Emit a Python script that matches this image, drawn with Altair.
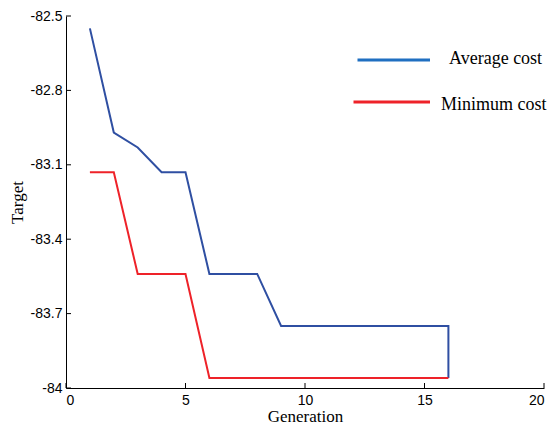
import altair as alt
import pandas as pd

# Data
gen_avg = [1, 2, 3, 4, 5, 6, 7, 8, 9, 10, 11, 12, 13, 14, 15, 16, 16]
avg_cost = [-82.55, -82.97, -83.03, -83.13, -83.13, -83.54, -83.54, -83.54,
            -83.75, -83.75, -83.75, -83.75, -83.75, -83.75, -83.75, -83.75, -83.96]
gen_min = [1, 2, 3, 4, 5, 6, 7, 8, 9, 10, 11, 12, 13, 14, 15, 16]
min_cost = [-83.13, -83.13, -83.54, -83.54, -83.54, -83.96, -83.96, -83.96,
            -83.96, -83.96, -83.96, -83.96, -83.96, -83.96, -83.96, -83.96]
series_names = ["Average cost", "Minimum cost"]
series_colors = ["#2f4fa2", "#ee2229"]
legend_colors = ["#1f6fc1", "#ee2229"]
x_ticks = [0, 5, 10, 15, 20]
y_ticks = [-84, -83.7, -83.4, -83.1, -82.8, -82.5]

rows = []
for i, (g, v) in enumerate(zip(gen_avg, avg_cost)):
    rows.append({"Generation": g, "Target": v, "Series": series_names[0], "order": i})
for i, (g, v) in enumerate(zip(gen_min, min_cost)):
    rows.append({"Generation": g, "Target": v, "Series": series_names[1], "order": i})
df = pd.DataFrame(rows)

W, H = 478, 372

xscale = alt.Scale(domain=[0, 20], nice=False, zero=False)
yscale = alt.Scale(domain=[-84, -82.5], nice=False, zero=False)

xaxis = alt.Axis(values=x_ticks, title="Generation", grid=False,
                 tickSize=0, labelPadding=5, titlePadding=1,
                 labelFont="Liberation Sans", labelFontSize=14,
                 titleFont="Liberation Serif", titleFontSize=17,
                 titleFontWeight="normal", labelColor="black",
                 titleColor="black", domainColor="black")
yaxis = alt.Axis(values=y_ticks, title="Target", grid=False,
                 tickSize=0, labelPadding=4, titlePadding=4,
                 labelExpr="'' + datum.value",
                 labelFont="Liberation Sans", labelFontSize=14,
                 titleFont="Liberation Serif", titleFontSize=17,
                 titleFontWeight="normal", labelColor="black",
                 titleColor="black", domainColor="black")

lines = alt.Chart(df).mark_line(strokeWidth=2).encode(
    x=alt.X("Generation:Q", scale=xscale, axis=xaxis),
    y=alt.Y("Target:Q", scale=yscale, axis=yaxis),
    color=alt.Color("Series:N",
                    scale=alt.Scale(domain=series_names, range=series_colors),
                    legend=None),
    order="order:Q",
)

xt = alt.Chart(pd.DataFrame({"Generation": x_ticks})).mark_rule(
    color="black", strokeWidth=1).encode(
    x=alt.X("Generation:Q", scale=xscale, axis=xaxis),
    y=alt.value(H), y2=alt.value(H - 5))

yt = alt.Chart(pd.DataFrame({"Target": y_ticks})).mark_rule(
    color="black", strokeWidth=1).encode(
    y=alt.Y("Target:Q", scale=yscale, axis=yaxis),
    x=alt.value(0), x2=alt.value(5))

# In-plot legend (no frame), as in the reference
leg_layers = []
leg_rule_x = [(291.5, 364), (287.5, 364)]
leg_rule_y = [44, 86]
leg_text_x = [383, 375]
leg_text_y = [48, 94.3]
for i, name in enumerate(series_names):
    ldf = pd.DataFrame({"Series": [name]})
    leg_layers.append(
        alt.Chart(ldf).mark_rule(color=legend_colors[i], strokeWidth=3).encode(
            x=alt.value(leg_rule_x[i][0]), x2=alt.value(leg_rule_x[i][1]),
            y=alt.value(leg_rule_y[i])))
    leg_layers.append(
        alt.Chart(ldf).mark_text(align="left", baseline="alphabetic",
                                 font="Liberation Serif", fontSize=18,
                                 color="black").encode(
            text="Series:N",
            x=alt.value(leg_text_x[i]), y=alt.value(leg_text_y[i])))

chart = alt.layer(lines, xt, yt, *leg_layers).properties(
    width=W, height=H,
    autosize=alt.AutoSizeParams(type="none"),
    padding={"left": 58, "top": 8, "right": 8, "bottom": 40},
    background="white",
).configure_view(stroke=None)

chart.save("out.html", embed_options={"renderer": "svg", "actions": False})
